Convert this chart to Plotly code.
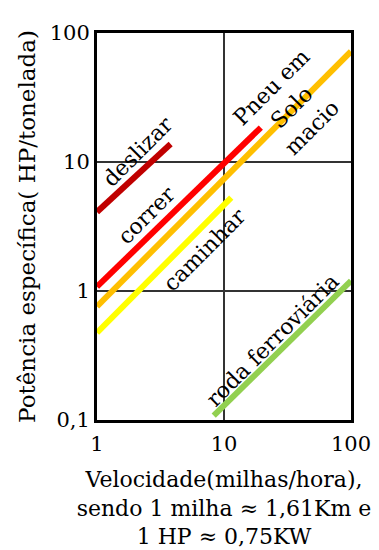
import plotly.graph_objects as go

# Data (log-log chart)
deslizar_x = [1, 3.8]
deslizar_y = [4.1, 13.8]
correr_x = [1, 19.5]
correr_y = [1.08, 18.5]
pneu_x = [1, 100]
pneu_y = [0.76, 72]
caminhar_x = [1, 11.4]
caminhar_y = [0.475, 5.3]
roda_x = [8.3, 100]
roda_y = [0.108, 1.2]

x_ticks = [1, 10, 100]
x_ticktext = ["1", "10", "100"]
y_ticks = [0.1, 1, 10, 100]
y_ticktext = ["0,1", "1", "10", "100"]

FONT = "DejaVu Serif"
# page body has an 8px default margin (left/top)
W, H = 371, 542
L, R, T, B = 89, 28, 25, 130

fig = go.Figure()
series = [
    (deslizar_x, deslizar_y, "#C00000"),
    (correr_x, correr_y, "#FF0000"),
    (pneu_x, pneu_y, "#FFBF00"),
    (caminhar_x, caminhar_y, "#FFFF00"),
    (roda_x, roda_y, "#92D050"),
]
for xs, ys, c in series:
    fig.add_trace(go.Scatter(x=xs, y=ys, mode="lines",
                             line=dict(color=c, width=6),
                             showlegend=False, hoverinfo="skip", cliponaxis=True))

# label positions in log10 data units
labels = [
    ("deslizar", 0.323, 1.078),
    ("correr", 0.386, 0.589),
    ("caminhar", 0.850, 0.318),
    ("Pneu em<br>Solo<br>macio", 1.535, 1.426),
    ("roda ferroviária", 1.378, -0.380),
]
for txt, lx, ly in labels:
    fig.add_annotation(x=lx, y=ly, xref="x", yref="y", text=txt,
                       textangle=-45, showarrow=False,
                       font=dict(family=FONT, size=22, color="black"))

axis_common = dict(
    type="log", automargin=False,
    showline=True, mirror=True, linecolor="black", linewidth=3,
    showgrid=True, gridcolor="#333333", gridwidth=1.5,
    zeroline=False, ticks="",
    tickfont=dict(family=FONT, size=21, color="black"),
)
fig.update_xaxes(**axis_common, range=[0, 2], tickvals=x_ticks, ticktext=x_ticktext,
                 ticklabelstandoff=3,
                 title=dict(text="Velocidade(milhas/hora),<br>sendo 1 milha ≈ 1,61Km e<br>1 HP ≈ 0,75KW",
                            font=dict(family=FONT, size=22, color="black"), standoff=17))
fig.update_yaxes(**axis_common, range=[-1, 2], tickvals=y_ticks, ticktext=y_ticktext,
                 title=dict(text="Potência específica( HP/tonelada)",
                            font=dict(family=FONT, size=23, color="black"), standoff=8))

fig.update_layout(width=W, height=H, margin=dict(l=L, r=R, t=T, b=B),
                  plot_bgcolor="white", paper_bgcolor="white")
fig.write_html("out.html")
